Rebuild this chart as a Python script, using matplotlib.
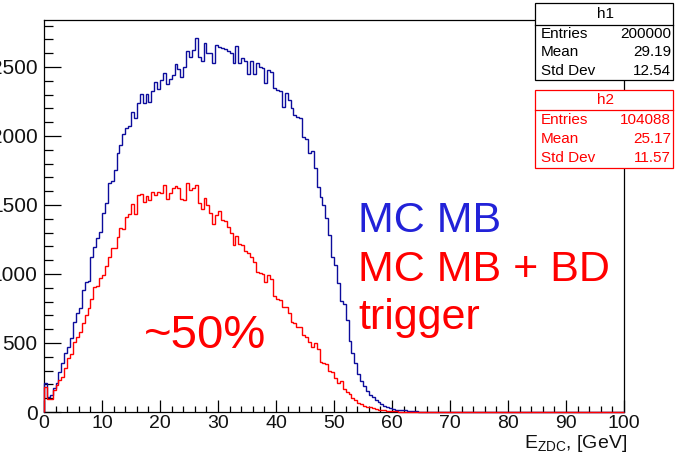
import numpy as np
import matplotlib
matplotlib.use("Agg")
import matplotlib.pyplot as plt
from matplotlib.patches import Rectangle
from matplotlib.lines import Line2D
from matplotlib.ticker import MultipleLocator

plt.rcParams['font.family'] = ['Liberation Sans', 'DejaVu Sans']
plt.rcParams['mathtext.default'] = 'regular'

# ---------------- data (0.5 GeV bins starting at 0) ----------------
bin_width = 0.5
x_min, x_max = 0, 100
y_max = 2840

blue_counts = [
    212, 111, 123, 172, 208, 292, 353, 425, 473, 534,
    654, 715, 751, 884, 944, 950, 1121, 1193, 1258, 1307,
    1444, 1517, 1657, 1675, 1753, 1874, 1935, 2015, 2060, 2070,
    2175, 2128, 2241, 2304, 2237, 2304, 2249, 2328, 2394, 2338,
    2406, 2459, 2377, 2411, 2442, 2522, 2483, 2430, 2502, 2618,
    2575, 2620, 2708, 2575, 2540, 2676, 2603, 2600, 2527, 2659,
    2647, 2640, 2628, 2618, 2600, 2527, 2652, 2527, 2565, 2545,
    2450, 2540, 2450, 2525, 2500, 2490, 2382, 2478, 2460, 2350,
    2330, 2325, 2212, 2314, 2261, 2200, 2155, 2135, 2128, 1990,
    1980, 1874, 1893, 1766, 1632, 1560, 1500, 1403, 1280, 1125,
    1065, 937, 806, 780, 667, 515, 430, 353, 272, 225,
    190, 150, 125, 110, 90, 70, 58, 45, 36, 28,
    22, 18, 15, 13, 12, 10, 8, 6, 4, 2,
]
blue_counts = blue_counts + [0] * (200 - len(blue_counts))

red_counts = [
    179, 92, 92, 159, 196, 232, 256, 316, 389, 420,
    510, 541, 582, 642, 703, 751, 816, 908, 913, 969,
    993, 1058, 1121, 1186, 1191, 1270, 1331, 1326, 1415, 1435,
    1505, 1435, 1572, 1580, 1522, 1568, 1536, 1597, 1572, 1597,
    1590, 1642, 1546, 1590, 1625, 1638, 1620, 1546, 1536, 1657,
    1609, 1620, 1645, 1517, 1471, 1548, 1500, 1440, 1362, 1427,
    1453, 1391, 1386, 1343, 1299, 1210, 1275, 1217, 1208, 1170,
    1150, 1125, 1089, 1017, 1010, 1000, 944, 993, 961, 841,
    816, 812, 763, 758, 715, 654, 647, 618, 614, 558,
    546, 510, 473, 502, 454, 365, 357, 348, 300, 292,
    244, 213, 228, 168, 147, 132, 105, 86, 68, 55,
    45, 39, 34, 30, 22, 18, 14, 12, 10, 8,
    6, 5, 3, 2, 1,
]
red_counts = red_counts + [0] * (200 - len(red_counts))

stat_labels = ["Entries", "Mean", "Std Dev"]
h1_values = ["200000", "29.19", "12.54"]
h2_values = ["104088", "25.17", "11.57"]

# ---------------- figure ----------------
W, H = 675, 454
fig = plt.figure(figsize=(W / 100, H / 100), dpi=100)
fig.patch.set_facecolor('white')


def fx(px):
    return px / W


def fy(py):
    return 1 - py / H


ax_l, ax_r, ax_t, ax_b = 44, 624, 20, 412
ax = fig.add_axes([fx(ax_l), fy(ax_b), (ax_r - ax_l) / W, (ax_b - ax_t) / H])

edges = np.linspace(x_min, x_max, len(blue_counts) + 1)
blue_line = '#0c0c9c'
red_line = '#ff0000'
ax.stairs(blue_counts, edges, color=blue_line, lw=1.0, zorder=3, clip_on=False)
ax.stairs(red_counts, edges, color=red_line, lw=1.0, zorder=4, clip_on=False)

ax.set_xlim(x_min, x_max)
ax.set_ylim(0, y_max)
for s in ax.spines.values():
    s.set_color('black')
    s.set_linewidth(0.9)

ax.xaxis.set_major_locator(MultipleLocator(10))
ax.xaxis.set_minor_locator(MultipleLocator(2))
ax.yaxis.set_major_locator(MultipleLocator(500))
ax.yaxis.set_minor_locator(MultipleLocator(100))
ax.tick_params(axis='both', which='both', direction='in', top=False, right=False,
               width=0.9, color='black', labelcolor='#111111')
ax.tick_params(axis='x', which='major', length=8.5, labelsize=14, pad=2.5)
ax.tick_params(axis='x', which='minor', length=4.3)
ax.tick_params(axis='y', which='major', length=12.5, labelsize=15, pad=4.5)
ax.tick_params(axis='y', which='minor', length=6.3)

fig.text(fx(627), fy(448), r'E$_{\mathregular{ZDC}}$, [GeV]', ha='right',
         va='baseline', fontsize=14, color='#111111')

# annotations
fig.text(fx(358), fy(232), 'MC MB', color='#2222d8', fontsize=31, va='baseline')
fig.text(fx(358), fy(281), 'MC MB + BD', color='#ff0000', fontsize=31, va='baseline')
fig.text(fx(358), fy(329), 'trigger', color='#ff0000', fontsize=31, va='baseline')
fig.text(fx(144), fy(348), '~50%', color='#ff0000', fontsize=34, va='baseline')


# stats boxes
def stats_box(top, bottom, sep, title, values, color):
    left, right = 535, 673
    rect = Rectangle((fx(left), fy(bottom)), (right - left) / W, (bottom - top) / H,
                     transform=fig.transFigure, facecolor='white', edgecolor=color,
                     lw=0.9, zorder=5)
    fig.add_artist(rect)
    ln = Line2D([fx(left), fx(right)], [fy(sep), fy(sep)], transform=fig.transFigure,
                color=color, lw=0.9, zorder=6)
    fig.add_artist(ln)
    fig.text(fx((left + right) / 2 + 2), fy((top + sep) / 2), title, ha='center',
             va='center', fontsize=11, color=color, zorder=7)
    row_h = (bottom - sep) / 3
    for i, (lab, val) in enumerate(zip(stat_labels, values)):
        yc = sep + row_h * (i + 0.5)
        fig.text(fx(541), fy(yc), lab, ha='left', va='center', fontsize=11,
                 color=color, zorder=7)
        fig.text(fx(671), fy(yc), val, ha='right', va='center', fontsize=11,
                 color=color, zorder=7)


stats_box(3, 80, 25, 'h1', h1_values, 'black')
stats_box(90, 168, 110, 'h2', h2_values, '#ff0000')

fig.savefig('out.png', dpi=100, facecolor='white')
